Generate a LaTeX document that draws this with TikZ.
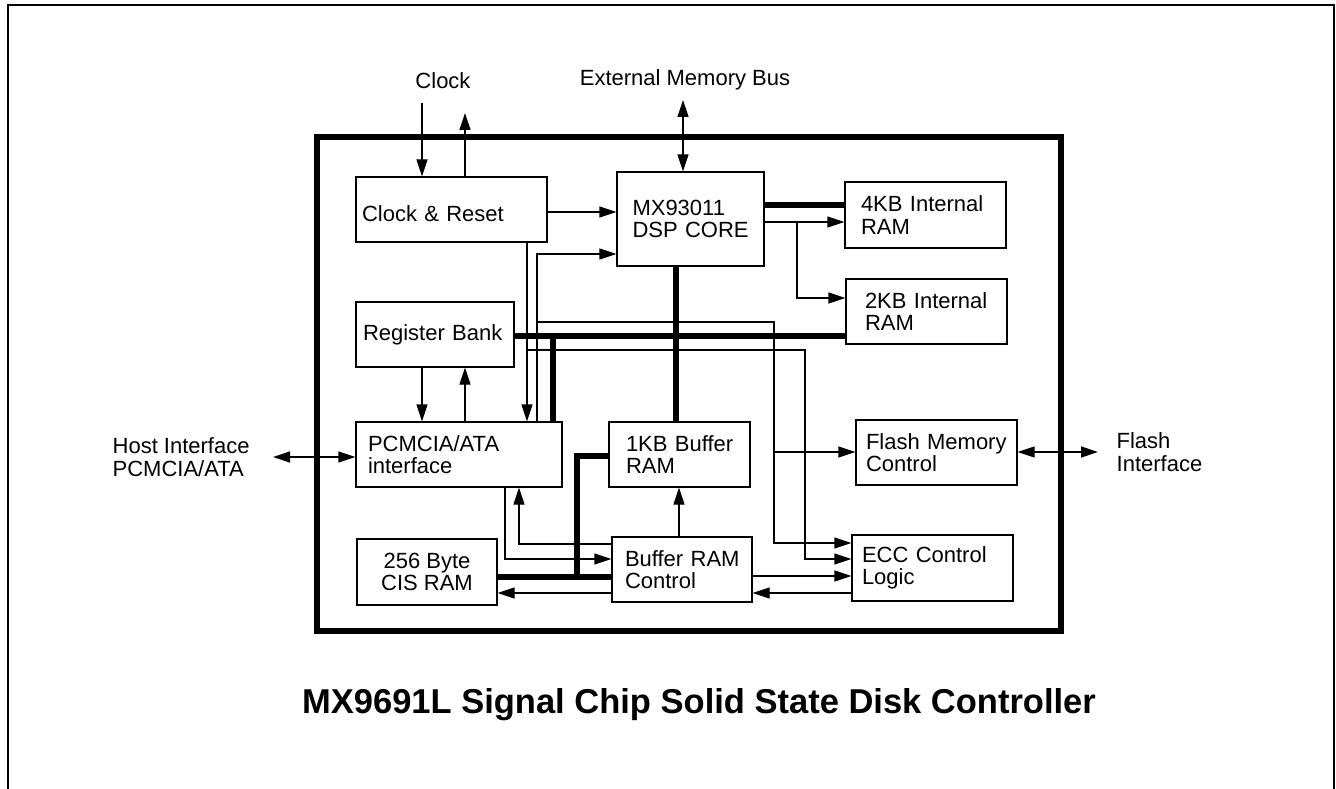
\documentclass[tikz,border=0pt]{standalone}
\usepackage{fontspec}
\setmainfont{Liberation Sans}
\usetikzlibrary{arrows.meta}
\tikzset{every picture/.style={line width=1.3pt}}

\begin{document}
\begin{tikzpicture}[x=1pt,y=1pt,yscale=-1,xscale=1,
	blk/.style={draw, inner xsep=0pt, inner ysep=0pt, align=left, font=\fontsize{22}{22.5}\selectfont},
	arr/.style={-{Triangle[length=17pt,width=11pt]}},
	darr/.style={{Triangle[length=17pt,width=11pt]}-{Triangle[length=17pt,width=11pt]}},
	bus/.style={line width=5.5pt},
	txt/.style={font=\fontsize{22}{22.5}\selectfont, align=left, inner sep=0pt}]
	\useasboundingbox (0,0) rectangle (1336,789);
	
	%Page frame
	\draw [line width=2pt] (8,789) -- (8,5) -- (1334,5) -- (1334,789) ;
	%Chip frame
	\draw [line width=6.5pt] (317,137) rectangle (1061,631) ;
	
	%Shape: Rectangle [blocks]
	\node [blk, minimum width=191, minimum height=65, text width=179, text height=25] (clk) at (451.5,209.5) {Clock \& Reset};
	\node [blk, minimum width=147, minimum height=94, text width=116] (dsp) at (690.5,219) {MX93011\\\mbox{DSP CORE}};
	\node [blk, minimum width=161, minimum height=66, text width=129] (ramA) at (925.5,215) {4KB Internal\\RAM};
	\node [blk, minimum width=161, minimum height=65, text width=123] (ramB) at (926.5,311.5) {2KB Internal\\RAM};
	\node [blk, minimum width=158, minimum height=65, text width=144] (reg) at (435,334.5) {Register Bank};
	\node [blk, minimum width=206, minimum height=65, text width=182] (pcm) at (459,454.5) {PCMCIA/ATA\\interface};
	\node [blk, minimum width=141, minimum height=65, text width=107] (buf) at (679.5,454.5) {\mbox{1KB Buffer}\\RAM};
	\node [blk, minimum width=140, minimum height=66, align=center] (cis) at (427,572) {256 Byte\\CIS RAM};
	\node [blk, minimum width=140, minimum height=65, text width=114] (brc) at (682,569.5) {\mbox{Buffer RAM}\\Control};
	\node [blk, minimum width=161, minimum height=65, text width=141] (flash) at (936.5,452.5) {Flash Memory\\Control};
	\node [blk, minimum width=161, minimum height=66, text width=141] (ecc) at (932.5,568) {ECC Control\\Logic};
	
	%Outside labels
	\node [txt, anchor=base] (clklbl) at (443,89) {Clock};
	\node [txt, anchor=base] (extlbl) at (685,86) {External Memory Bus};
	\node [txt, anchor=west] (hostlbl) at (112,457) {Host Interface\\PCMCIA/ATA};
	\node [txt, anchor=west] (fiflbl) at (1116,452) {Flash\\Interface};
	\node [font=\fontsize{34.5}{40}\selectfont\bfseries, anchor=base] (title) at (699,713) {MX9691L Signal Chip Solid State Disk Controller};
	
	%Free ends
	\coordinate (clkin) at (422,103);
	\coordinate (clkout) at (465,113);
	\coordinate (extbus) at (683,100);
	\coordinate (host) at (273,457);
	\coordinate (fif) at (1098,452);
	
	%Straight Lines [external]
	\draw [arr] (clkin) -- (clkin |- clk.north) ;
	\draw [arr] (clkout |- clk.north) -- (clkout) ;
	\draw [darr] (extbus) -- (extbus |- dsp.north) ;
	\draw [darr] (host) -- (pcm.west |- host) ;
	\draw [darr] (flash.east |- fif) -- (fif) ;
	
	%Thick buses
	\draw [bus] (dsp.east |- 0,205) -- (ramA.west |- 0,205) ;
	\draw [bus] (reg.east |- 0,336) -- (ramB.west |- 0,336) ;
	\draw [bus] (dsp.south -| 676,0) -- (buf.north -| 676,0) ;
	\draw [bus] (553,336) -- (pcm.north -| 553,0) ;
	\draw [bus] (buf.west |- 0,456) -| (577,577) ;
	\draw [bus] (cis.east |- 0,577) -- (brc.west |- 0,577) ;
	
	%Straight Lines [top half]
	\draw [arr] (clk.east |- 0,212) -- (dsp.west |- 0,212) ;
	\draw [arr] (pcm.north -| 537,0) |- (dsp.west |- 0,254) ;
	\draw [arr] (dsp.east |- 0,222) -- (ramA.west |- 0,222) ;
	\draw [arr] (797,222) |- (ramB.west |- 0,298) ;
	\draw [arr] (clk.south -| 527,0) -- (pcm.north -| 527,0) ;
	\draw [arr] (527,350) -| (805,559) -- (ecc.west |- 0,559) ;
	\draw [arr] (537,322) -| (774,543) -- (ecc.west |- 0,543) ;
	\draw [arr] (774,452) -- (flash.west |- 0,452) ;
	\draw [arr] (reg.south -| 422,0) -- (pcm.north -| 422,0) ;
	\draw [arr] (pcm.north -| 465,0) -- (reg.south -| 465,0) ;
	
	%Straight Lines [bottom half]
	\draw [arr] (brc.north -| 679,0) -- (buf.south -| 679,0) ;
	\draw [arr] (pcm.south -| 505,0) |- (brc.west |- 0,559) ;
	\draw [arr] (brc.west |- 0,544) -| (pcm.south -| 519,0) ;
	\draw [arr] (brc.west |- 0,593) -- (cis.east |- 0,593) ;
	\draw [arr] (brc.east |- 0,576) -- (ecc.west |- 0,576) ;
	\draw [arr] (ecc.west |- 0,593) -- (brc.east |- 0,593) ;
	
\end{tikzpicture}
\end{document}
